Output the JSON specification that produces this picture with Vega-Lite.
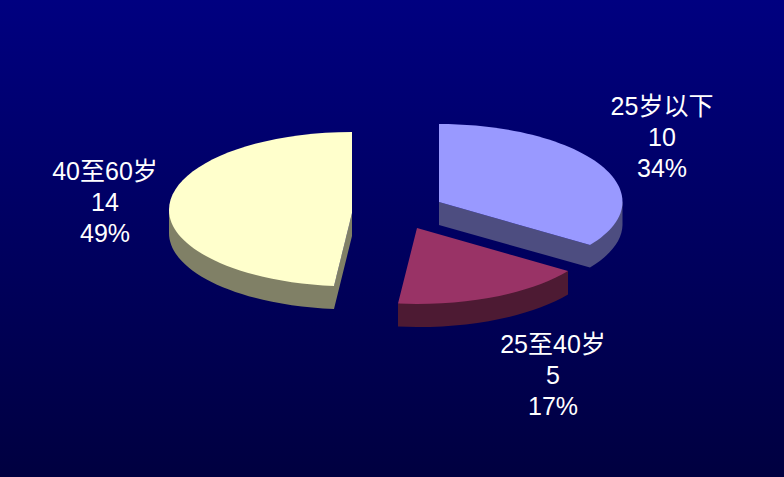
{
 "$schema":"https://vega.github.io/schema/vega-lite/v6.json",
 "width":784,"height":477,"autosize":{"type":"fit","contains":"padding"},"padding":0,
 "background":"#000060",
 "config":{"view":{"stroke":null}},
 "data":{"values":[
  {"category":"25岁以下","count":10,"percent":"34%"},
  {"category":"25至40岁","count":5,"percent":"17%"},
  {"category":"40至60岁","count":14,"percent":"49%"}
 ]},
 "resolve":{"scale":{"shape":"independent","color":"independent"}},
 "layer":[
  {"data":{"values":[{"bg":1}]},
   "mark":{"type":"rect","color":{"gradient":"linear","x1":0,"y1":0,"x2":0,"y2":1,"stops":[{"offset":0,"color":"#000080"},{"offset":1,"color":"#000040"}]}},
   "encoding":{"x":{"value":0},"x2":{"value":784},"y":{"value":0},"y2":{"value":477}}},
  {"mark":{"type":"point","filled":true,"opacity":1,"size":4},
   "encoding":{
    "shape":{"field":"category","type":"nominal","legend":null,
     "scale":{"domain":["25岁以下","25至40岁","40至60岁"],
      "range":["M47,-36.5 L47,-13.5 L198,29 A183.5,76 0 0 0 230.5,-13.5 L230.5,-36.5 L198,6.5 Z",
               "M176,32.5 L176,56 A183,76 0 0 1 25,88.5 A183,76 0 0 1 6,88.1 L6,65.1 Z",
               "M-223,-28.5 L-223,-5.5 A183,76.5 0 0 0 -58,70.6 L-40,-2.5 L-40,-25.5 L-58,47.6 Z"]}},
    "color":{"field":"category","type":"nominal","legend":null,
     "scale":{"domain":["25岁以下","25至40岁","40至60岁"],"range":["#4D4D80","#4D1A33","#808066"]}}}},
  {"mark":{"type":"point","filled":true,"opacity":1,"size":4},
   "encoding":{
    "shape":{"field":"category","type":"nominal","legend":null,
     "scale":{"domain":["25岁以下","25至40岁","40至60岁"],
      "range":["M47,-36.5 L47,-114.5 A183.5,78 0 0 1 230.5,-36.5 A183.5,76 0 0 1 198,6.5 Z",
               "M25,-10.5 L176,32.5 A183,76 0 0 1 25,65.5 A183,76 0 0 1 6,65.1 Z",
               "M-40,-25.5 L-40,-106.5 A183,78 0 0 0 -223,-28.5 A183,76.5 0 0 0 -58,47.6 Z"]}},
    "color":{"field":"category","type":"nominal","legend":null,
     "scale":{"domain":["25岁以下","25至40岁","40至60岁"],"range":["#9999FF","#993366","#FFFFCC"]}}}},
  {"transform":[{"calculate":"[datum.category, '' + datum.count, datum.percent]","as":"label"}],
   "mark":{"type":"text","color":"#FFFFFF","font":"Liberation Sans, Noto Sans CJK SC","fontSize":25,"lineHeight":31,"align":"center","baseline":"middle"},
   "encoding":{
    "text":{"field":"label"},
    "x":{"field":"count","type":"quantitative","axis":null,"scale":{"domain":[5,10,14],"range":[553,662,105],"nice":false,"zero":false}},
    "y":{"field":"count","type":"quantitative","axis":null,"scale":{"domain":[5,10,14],"range":[345,107,172],"nice":false,"zero":false}}}}
 ]
}
